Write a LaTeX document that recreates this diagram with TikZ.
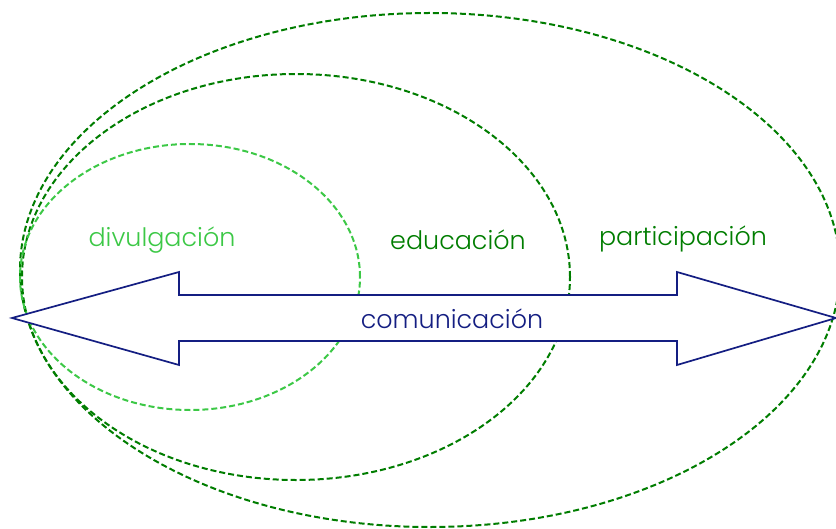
\documentclass[tikz,border=0pt]{standalone}
\usepackage{fontspec}
\setmainfont{Poppins Light}
\usetikzlibrary{shapes.geometric}
\definecolor{dkgreen}{RGB}{0,125,0}
\definecolor{ltgreen}{RGB}{60,200,70}
\definecolor{navy}{RGB}{20,30,130}
\tikzset{
  ring/.style={ellipse, line width=2bp, dash pattern=on 6bp off 3bp, inner sep=0pt},
  lbl/.style={font=\fontsize{25.5}{30}\selectfont, inner sep=0pt},
}
\begin{document}
\begin{tikzpicture}[x=1bp,y=-1bp]
\useasboundingbox (0,0) rectangle (836,529);
\clip (0,0) rectangle (836,529);
\node[ring, draw=dkgreen, minimum width=820bp, minimum height=514bp] (outer) at (430,270) {};
\node[ring, draw=dkgreen, minimum width=548bp, minimum height=406bp] (middle) at (296,277) {};
\node[ring, draw=ltgreen, minimum width=340bp, minimum height=266bp] (inner) at (190,277) {};
\draw[navy, line width=1.7bp, fill=white] (12,318) -- (179,272) -- (179,295) -- (677,295) -- (677,272) -- (836,318) -- (677,365) -- (677,341) -- (179,341) -- (179,365) -- cycle;
\node[lbl, text=ltgreen] (div) at (162,240) {divulgación};
\node[lbl, text=dkgreen] (edu) at (458,240) {educación};
\node[lbl, text=dkgreen] (par) at (683,239) {participación};
\node[lbl, text=navy] (com) at (452,319) {comunicación};
\end{tikzpicture}
\end{document}
